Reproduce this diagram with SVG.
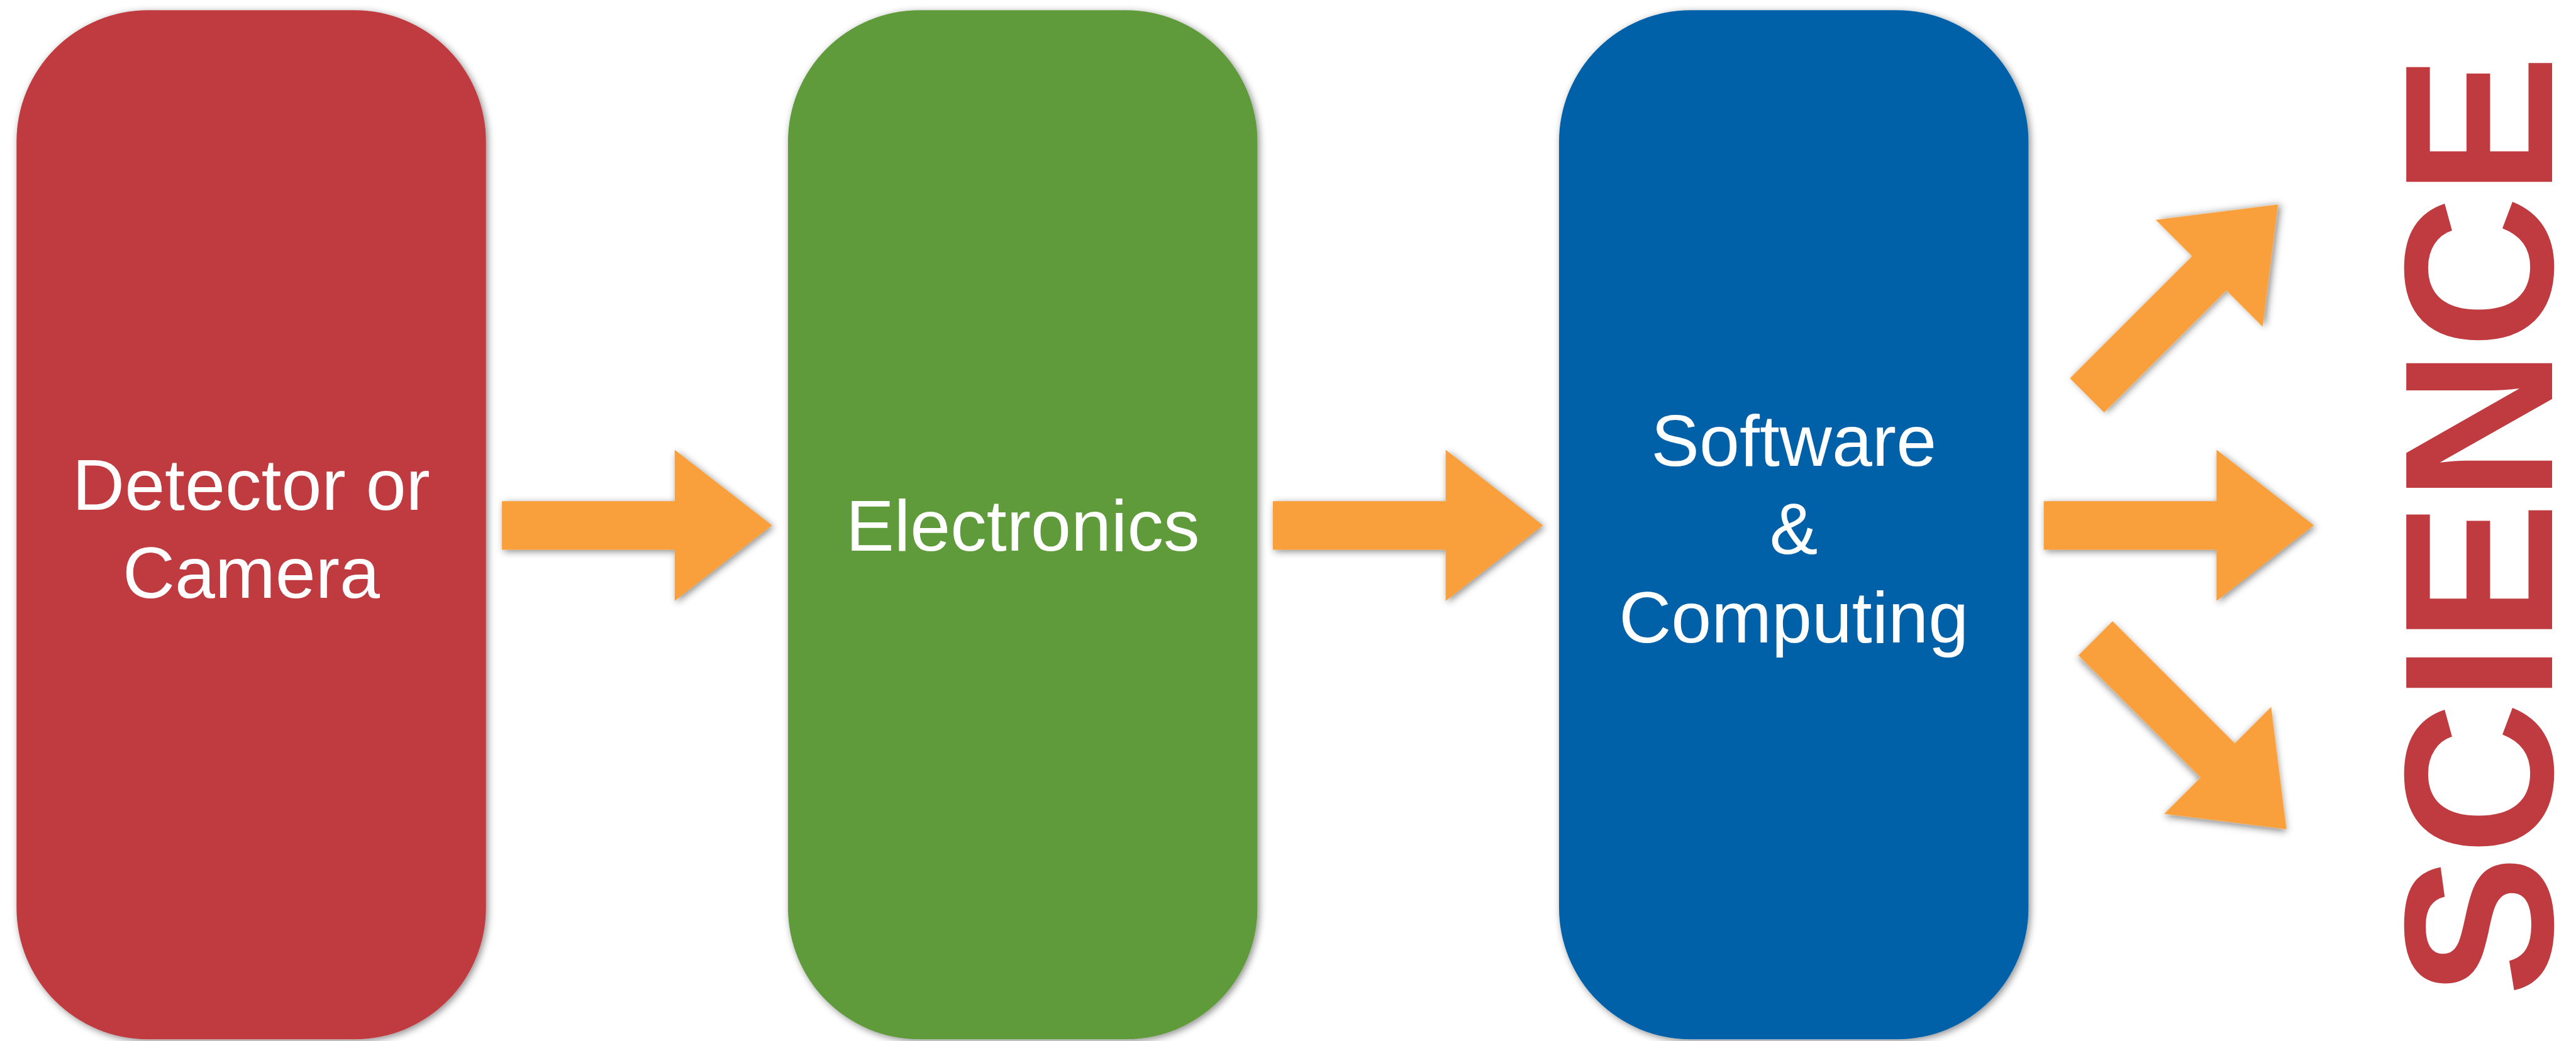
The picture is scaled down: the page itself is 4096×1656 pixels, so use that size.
<svg xmlns="http://www.w3.org/2000/svg" width="4096" height="1656" viewBox="0 0 4096 1656">
  <defs>
    <filter id="soft-shadow" x="-10%" y="-10%" width="125%" height="125%">
      <feDropShadow dx="3" dy="3" stdDeviation="6" flood-color="#000" flood-opacity="0.45"/>
    </filter>
    <!-- block arrow pointing along +x, origin at the middle of the tail -->
    <path id="block-arrow" d="M0,-38.6 H274.7 V-120.3 L429.5,0 L274.7,120.3 V38.6 H0 Z"/>
  </defs>
  <style>
    .box { filter: url(#soft-shadow); }
    .red { fill: #BF3B3F; }
    .green { fill: #5E9A3A; }
    .blue { fill: #0360A8; }
    .label { fill: #FFFFFF; font-family: "Liberation Sans", Arial, Helvetica, sans-serif; font-size: 115px; text-anchor: middle; }
    .arrow { fill: #F9A03C; filter: url(#soft-shadow); }
    .science { fill: #BF3B3F; font-family: "Liberation Sans", Arial, Helvetica, sans-serif; font-weight: bold; font-size: 337px; text-anchor: middle; }
  </style>

  <rect width="4096" height="1656" fill="#FFFFFF"/>

  <g id="detector">
    <rect class="box red" x="26.3" y="16.3" width="746.4" height="1637" rx="209" ry="209"/>
    <text class="label" x="399.5" y="811">Detector or</text>
    <text class="label" x="399.5" y="951">Camera</text>
  </g>

  <g id="electronics">
    <rect class="box green" x="1253" y="16.3" width="746.4" height="1637" rx="209" ry="209"/>
    <text class="label" x="1626.2" y="876">Electronics</text>
  </g>

  <g id="computing">
    <rect class="box blue" x="2479" y="16.3" width="746.4" height="1637" rx="209" ry="209"/>
    <text class="label" x="2852.2" y="741">Software</text>
    <text class="label" x="2852.2" y="881">&amp;</text>
    <text class="label" x="2852.2" y="1021.5">Computing</text>
  </g>

  <g id="science">
    <text class="science" transform="translate(4058,836) rotate(-90)" x="0" y="0">SCIENCE</text>
  </g>

  <g id="connectors">
    <use href="#block-arrow" class="arrow" transform="translate(798.1,835.8)"/>
    <use href="#block-arrow" class="arrow" transform="translate(2024,835.8)"/>
    <use href="#block-arrow" class="arrow" transform="translate(3249.7,835.8)"/>
    <use href="#block-arrow" class="arrow" transform="translate(3318.5,629) rotate(-45)"/>
    <use href="#block-arrow" class="arrow" transform="translate(3332,1015.4) rotate(45)"/>
  </g>
</svg>
